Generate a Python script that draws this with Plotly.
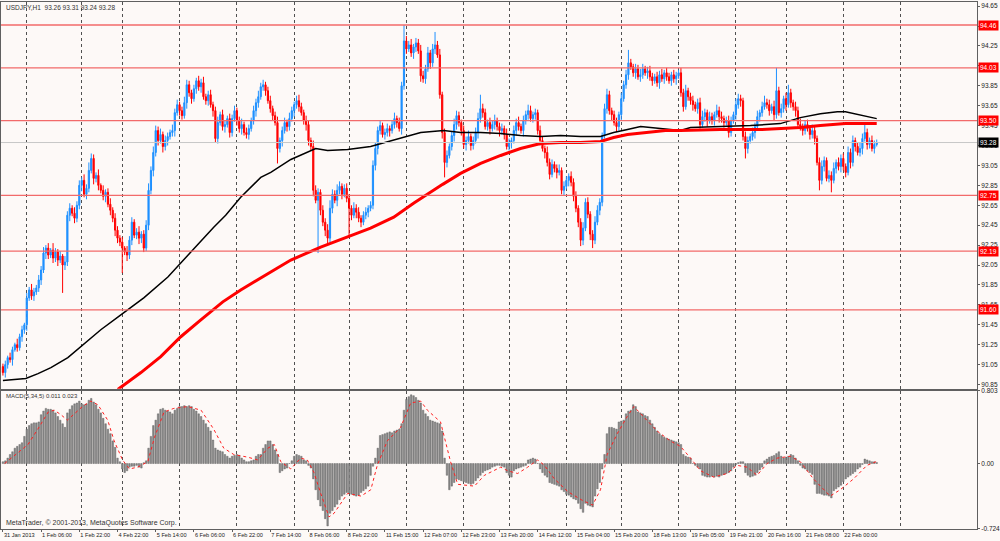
import plotly.graph_objects as go
from plotly.subplots import make_subplots

# USDJPY H1 - one value per hourly bar, grouped by 16 bars (one time label each)
first_open = 91.03
closes = [
    90.97, 91.05, 91.12, 91.10, 91.20, 91.25, 91.22, 91.33, 91.40, 91.45, 91.72, 91.80, 91.74, 91.78, 91.82, 91.90,
    92.00, 92.17, 92.22, 92.15, 92.20, 92.12, 92.18, 92.10, 92.14, 92.05, 92.08, 92.55, 92.62, 92.57, 92.52, 92.65,
    92.85, 92.90, 92.76, 92.82, 93.00, 93.12, 92.92, 92.95, 92.85, 92.80, 92.74, 92.78, 92.66, 92.60, 92.52, 92.40,
    92.32, 92.28, 92.22, 92.18, 92.15, 92.30, 92.48, 92.35, 92.38, 92.32, 92.36, 92.22, 92.45, 92.80, 93.00, 93.18,
    93.40, 93.30, 93.36, 93.24, 93.30, 93.34, 93.38, 93.40, 93.58, 93.66, 93.60, 93.55, 93.68, 93.86, 93.78, 93.72,
    93.82, 93.90, 93.84, 93.88, 93.74, 93.70, 93.76, 93.66, 93.60, 93.32, 93.48, 93.56, 93.44, 93.46, 93.52, 93.38,
    93.52, 93.60, 93.50, 93.42, 93.46, 93.38, 93.36, 93.42, 93.50, 93.60, 93.68, 93.74, 93.84, 93.86, 93.80, 93.70,
    93.62, 93.55, 93.48, 93.22, 93.30, 93.40, 93.48, 93.44, 93.52, 93.60, 93.66, 93.70, 93.64, 93.58, 93.50, 93.46,
    93.30, 93.24, 92.80, 92.70, 92.78, 92.60, 92.48, 92.40, 92.32, 92.62, 92.76, 92.70, 92.80, 92.84, 92.76, 92.82,
    92.72, 92.62, 92.55, 92.62, 92.58, 92.52, 92.48, 92.55, 92.58, 92.62, 92.65, 93.05, 93.22, 93.40, 93.45, 93.36,
    93.38, 93.42, 93.40, 93.46, 93.52, 93.48, 93.42, 93.85, 94.30, 94.22, 94.26, 94.18, 94.24, 94.28, 94.20, 93.95,
    93.92, 94.02, 94.18, 94.08, 94.22, 94.26, 94.16, 93.76, 93.38, 93.08, 93.15, 93.24, 93.35, 93.46, 93.55, 93.48,
    93.40, 93.26, 93.30, 93.34, 93.25, 93.30, 93.38, 93.52, 93.62, 93.58, 93.44, 93.48, 93.42, 93.46, 93.50, 93.44,
    93.40, 93.42, 93.36, 93.24, 93.28, 93.30, 93.40, 93.48, 93.44, 93.40, 93.50, 93.56, 93.60, 93.52, 93.56, 93.58,
    93.40, 93.30, 93.22, 93.18, 93.08, 92.96, 93.06, 93.02, 92.98, 93.00, 92.80, 92.84, 92.90, 92.94, 92.88, 92.74,
    92.62, 92.48, 92.30, 92.42, 92.68, 92.56, 92.36, 92.30, 92.48, 92.60, 92.68, 93.35, 93.62, 93.76, 93.60, 93.56,
    93.48, 93.44, 93.56, 93.72, 93.86, 93.96, 94.08, 94.04, 93.98, 94.02, 93.94, 93.96, 94.02, 93.98, 94.00, 93.94,
    93.90, 93.94, 93.88, 93.96, 93.92, 93.98, 93.94, 93.90, 93.96, 93.92, 93.95, 93.98, 93.78, 93.64, 93.80, 93.74,
    93.70, 93.66, 93.62, 93.68, 93.46, 93.54, 93.58, 93.50, 93.54, 93.50, 93.56, 93.60, 93.54, 93.52, 93.48, 93.50,
    93.38, 93.50, 93.56, 93.66, 93.72, 93.70, 93.34, 93.22, 93.30, 93.34, 93.38, 93.44, 93.54, 93.58, 93.64, 93.68,
    93.66, 93.60, 93.64, 93.56, 93.80, 93.58, 93.62, 93.72, 93.66, 93.78, 93.68, 93.64, 93.60, 93.46, 93.44, 93.40,
    93.46, 93.42, 93.36, 93.40, 93.32, 93.08, 92.90, 93.04, 93.10, 92.92, 92.95, 92.90, 93.02, 93.08, 93.04, 93.12,
    93.04, 92.98, 93.18, 93.08, 93.30, 93.24, 93.18, 93.22, 93.32, 93.38, 93.26, 93.30, 93.22, 93.26, 93.28,
]

# wick lengths above / below the body, in 0.01 yen
wick_up = [
    3, 4, 2, 5, 3, 2, 6, 3, 4, 2, 5, 3, 6, 4, 3, 5,
    4, 6, 3, 5, 2, 7, 4, 3, 5, 2, 6, 4, 5, 3, 6, 4,
    5, 3, 6, 4, 8, 5, 4, 3, 6, 2, 5, 3, 4, 6, 3, 5,
    4, 3, 5, 2, 6, 4, 5, 3, 4, 6, 3, 4, 5, 7, 4, 6,
    5, 4, 6, 3, 5, 4, 3, 6, 4, 5, 3, 4, 6, 5, 4, 3,
    4, 3, 5, 4, 6, 3, 4, 5, 3, 4, 6, 3, 5, 4, 3, 5,
    4, 5, 3, 4, 6, 3, 5, 4, 3, 5, 4, 6, 4, 5, 3, 4,
    5, 3, 4, 6, 3, 4, 5, 3, 6, 4, 3, 5, 6, 4, 3, 5,
    4, 3, 6, 5, 4, 3, 5, 4, 6, 8, 5, 4, 6, 5, 3, 4,
    5, 4, 3, 6, 4, 5, 3, 4, 5, 3, 4, 5, 6, 4, 5, 3,
    4, 5, 3, 4, 6, 3, 5, 4, 16, 5, 4, 6, 3, 5, 4, 6,
    5, 4, 6, 3, 5, 13, 4, 6, 3, 4, 5, 3, 4, 6, 5, 4,
    3, 5, 4, 6, 3, 4, 5, 6, 14, 5, 4, 3, 5, 4, 6, 3,
    4, 5, 3, 6, 4, 3, 5, 4, 6, 3, 5, 4, 6, 5, 3, 4,
    3, 5, 4, 3, 6, 4, 5, 3, 4, 6, 3, 5, 4, 3, 5, 4,
    5, 3, 4, 6, 4, 5, 3, 4, 6, 5, 4, 3, 5, 6, 4, 3,
    4, 5, 3, 6, 4, 5, 13, 4, 3, 5, 4, 6, 5, 3, 4, 5,
    4, 3, 5, 4, 6, 3, 5, 4, 3, 5, 4, 3, 5, 4, 6, 3,
    4, 5, 3, 4, 5, 6, 4, 3, 5, 4, 3, 6, 4, 5, 3, 4,
    5, 4, 3, 6, 5, 4, 3, 5, 4, 3, 5, 4, 6, 3, 5, 7,
    4, 5, 3, 6, 23, 4, 5, 3, 6, 8, 4, 3, 5, 4, 6, 3,
    4, 5, 3, 6, 4, 3, 5, 6, 4, 3, 5, 4, 6, 3, 5, 4,
    5, 3, 6, 4, 5, 3, 4, 6, 5, 8, 4, 3, 5, 4, 3,
]
wick_dn = [
    3, 5, 4, 3, 6, 2, 4, 3, 5, 4, 6, 3, 4, 5, 3, 4,
    5, 3, 6, 4, 3, 5, 4, 6, 3, 28, 5, 4, 6, 3, 5, 4,
    4, 6, 3, 5, 4, 3, 6, 4, 5, 3, 4, 6, 3, 5, 4, 6,
    5, 4, 25, 3, 6, 4, 5, 3, 4, 6, 5, 4, 3, 5, 4, 6,
    4, 5, 3, 6, 4, 5, 3, 4, 6, 3, 5, 4, 3, 6, 4, 5,
    3, 5, 4, 6, 3, 4, 5, 3, 6, 4, 5, 3, 4, 6, 3, 5,
    4, 3, 5, 4, 6, 3, 4, 5, 3, 4, 6, 5, 3, 4, 5, 3,
    4, 5, 3, 15, 4, 6, 3, 5, 4, 3, 6, 4, 5, 3, 4, 6,
    5, 4, 6, 3, 53, 5, 4, 6, 6, 4, 5, 3, 6, 4, 5, 3,
    4, 29, 5, 3, 6, 4, 5, 3, 4, 5, 3, 4, 5, 6, 4, 3,
    5, 4, 6, 3, 4, 5, 3, 6, 4, 5, 3, 4, 6, 5, 3, 6,
    4, 5, 3, 6, 4, 5, 3, 4, 6, 15, 5, 3, 4, 6, 5, 4,
    5, 4, 6, 3, 5, 4, 3, 6, 4, 5, 3, 4, 6, 3, 5, 4,
    6, 4, 5, 3, 4, 6, 3, 5, 4, 3, 6, 4, 5, 3, 4, 5,
    4, 5, 3, 6, 4, 5, 3, 4, 6, 3, 4, 5, 3, 6, 4, 5,
    4, 5, 6, 5, 3, 4, 6, 8, 4, 3, 5, 4, 3, 5, 4, 6,
    3, 5, 4, 6, 3, 4, 5, 3, 4, 6, 3, 5, 4, 3, 6, 4,
    5, 3, 4, 6, 3, 5, 4, 3, 5, 4, 6, 3, 4, 5, 3, 4,
    4, 6, 3, 5, 4, 3, 5, 6, 3, 4, 5, 3, 6, 4, 5, 3,
    5, 4, 3, 5, 4, 6, 4, 10, 5, 3, 4, 6, 3, 5, 4, 3,
    4, 5, 3, 6, 4, 3, 5, 4, 6, 3, 5, 4, 6, 3, 4, 5,
    4, 3, 5, 4, 6, 3, 10, 4, 5, 3, 4, 12, 3, 5, 4, 6,
    4, 5, 3, 6, 4, 5, 3, 4, 6, 3, 5, 4, 3, 5, 2,
]

# moving averages (bar index, price)
ma_black_bars = [0, 9.6, 14.7, 20.1, 27.2, 32.6, 41.0, 49.4, 59.0, 69.1, 74.5, 80.0, 88.3, 93.3, 99.6, 108.0,
                 112.2, 120.6, 127.7, 131.0, 136.0, 144.4, 154.0, 161.2, 167.9, 175.0, 184.6, 191.7, 200.1,
                 208.5, 216.8, 225.2, 233.6, 241.9, 250.3, 255.8, 261.6, 267.1, 275.4, 283.8, 288.0, 300.5,
                 313.1, 325.6, 334.0, 342.4, 349.5, 352.9, 359.2, 366.0]
ma_black_vals = [90.89, 90.91, 90.96, 91.02, 91.12, 91.23, 91.40, 91.55, 91.72, 91.93, 92.07, 92.22, 92.43, 92.55,
                 92.73, 92.93, 92.98, 93.11, 93.19, 93.22, 93.20, 93.21, 93.24, 93.29, 93.33, 93.38, 93.40, 93.38,
                 93.38, 93.37, 93.35, 93.34, 93.35, 93.34, 93.34, 93.38, 93.41, 93.44, 93.42, 93.40, 93.43, 93.44,
                 93.45, 93.47, 93.53, 93.57, 93.59, 93.59, 93.56, 93.52]
ma_red_bars = [48.1, 57.8, 66.1, 74.5, 82.9, 92.1, 99.6, 108.0, 120.6, 133.1, 144.4, 154.0, 163.7, 172.0, 184.2,
               191.7, 200.1, 208.5, 216.8, 225.2, 233.6, 241.9, 250.3, 255.8, 261.6, 270.0, 277.5, 283.8, 300.5,
               317.3, 328.6, 334.0, 342.4, 352.9, 366.0]
ma_red_vals = [90.80, 90.97, 91.13, 91.33, 91.50, 91.68, 91.80, 91.92, 92.10, 92.23, 92.33, 92.42, 92.53, 92.67,
               92.86, 92.97, 93.07, 93.15, 93.22, 93.27, 93.28, 93.28, 93.29, 93.33, 93.36, 93.38, 93.40, 93.40,
               93.41, 93.41, 93.42, 93.43, 93.45, 93.47, 93.47]

# MACD(5,34,5) main line per bar, in 0.01
macd_hist = [
    2, 3, 6, 10, 13, 17, 19, 21, 23, 30, 38, 42, 44, 45, 45, 46,
    54, 58, 61, 60, 60, 59, 56, 52, 48, 44, 40, 56, 60, 64, 66, 67,
    69, 66, 65, 66, 70, 72, 68, 65, 60, 56, 50, 44, 38, 33, 25, 18,
    6, 2, -6, -10, -8, -4, -3, -3, -2, -4, -5, 1, 3, 17, 30, 42,
    48, 55, 60, 61, 59, 58, 57, 55, 59, 61, 63, 63, 64, 63, 64, 63,
    60, 58, 55, 52, 48, 44, 40, 36, 26, 17, 15, 14, 13, 10, 8, 6,
    8, 9, 10, 9, 6, 4, 2, 2, 3, 4, 8, 10, 10, 17, 21, 25,
    25, 21, 15, 10, -10, -8, -6, -5, 0, 3, 8, 10, 9, 8, 4, 3,
    -2, -5, -17, -29, -40, -47, -52, -61, -69, -55, -52, -48, -45, -40, -36, -34,
    -32, -33, -34, -35, -36, -35, -32, -30, -28, -25, -13, -3, 6, 17, 31, 32,
    33, 34, 35, 34, 36, 37, 38, 44, 59, 71, 74, 76, 75, 73, 70, 67,
    59, 55, 52, 48, 47, 46, 45, 44, 36, 6, -13, -29, -25, -21, -17, -18,
    -19, -20, -21, -22, -23, -22, -19, -16, -13, -10, -8, -7, -6, -4, -3, -2,
    -2, -3, -4, -10, -13, -15, -8, -6, -5, -4, -3, -2, 4, 5, 6, 5,
    0, -6, -10, -13, -15, -21, -22, -23, -24, -25, -29, -31, -34, -35, -37, -39,
    -40, -44, -50, -54, -44, -46, -47, -48, -36, -28, -21, -6, 10, 33, 40, 40,
    39, 38, 46, 47, 48, 55, 58, 59, 65, 63, 57, 56, 55, 53, 52, 48,
    44, 40, 36, 33, 31, 29, 28, 27, 26, 25, 24, 23, 21, 10, 8, 7,
    6, 0, -2, -4, -6, -13, -14, -15, -15, -14, -15, -14, -15, -13, -12, -11,
    -10, -8, -4, -1, 1, 2, 2, -10, -13, -15, -14, -13, -10, -7, -4, 3,
    5, 7, 8, 9, 11, 13, 8, 6, 7, 8, 10, 9, 6, 3, -2, -5,
    -6, -8, -10, -12, -23, -33, -33, -34, -35, -35, -36, -38, -30, -28, -26, -24,
    -20, -17, -15, -13, -11, -9, -6, -4, -1, 5, 4, 3, 2, 2, 1.1,
]

# signal line (bar index, value)
signal_bars = [0.7, 4.6, 10.5, 14.6, 19.0, 21.5, 24.3, 27.0, 29.8, 33.3, 36.8, 39.8, 43.9, 46.6, 50.1, 53.0,
               56.4, 60.7, 63.5, 67.5, 71.6, 77.4, 83.0, 88.3, 92.5, 96.7, 102.6, 106.7, 111.0, 113.7, 116.4,
               120.6, 124.7, 127.5, 130.3, 133.1, 136.6, 138.7, 144.4, 150.0, 154.1, 156.8, 161.0, 166.6, 170.8,
               175.0, 177.8, 183.3, 187.5, 190.5, 197.5, 201.7, 208.5, 211.4, 215.6, 219.8, 224.0, 226.8, 231.0,
               236.6, 242.2, 247.0, 250.3, 253.1, 257.3, 261.5, 264.3, 268.4, 274.0, 279.5, 283.8, 288.0, 292.2,
               297.7, 303.3, 307.5, 311.7, 315.9, 320.1, 324.3, 329.8, 334.0, 339.5, 346.5, 350.7, 356.3, 361.9,
               366.0]
signal_vals = [0.0, 0.08, 0.21, 0.38, 0.57, 0.59, 0.54, 0.48, 0.55, 0.63, 0.69, 0.65, 0.48, 0.25, 0.04, -0.06,
               -0.04, 0.02, 0.29, 0.57, 0.61, 0.63, 0.59, 0.38, 0.17, 0.10, 0.07, 0.04, 0.17, 0.21, 0.02,
               -0.06, 0.06, 0.04, -0.10, -0.33, -0.59, -0.55, -0.33, -0.36, -0.29, -0.02, 0.25, 0.40, 0.67,
               0.69, 0.59, 0.46, 0.02, -0.23, -0.25, -0.13, -0.04, -0.08, -0.11, -0.04, 0.04, -0.02, -0.17,
               -0.31, -0.40, -0.46, -0.29, 0.10, 0.33, 0.52, 0.63, 0.52, 0.36, 0.25, 0.19, 0.06, -0.08,
               -0.15, -0.11, -0.02, -0.04, -0.13, 0.0, 0.06, 0.08, 0.02, -0.17, -0.36, -0.29, -0.17, -0.02,
               0.023]

# horizontal levels drawn on the chart
levels = [94.46, 94.03, 93.50, 92.75, 92.19, 91.60]
bid = 93.28

# time axis
tick_text = ["31 Jan 2013", "1 Feb 06:00", "1 Feb 22:00", "4 Feb 22:00", "5 Feb 14:00", "6 Feb 06:00",
             "6 Feb 22:00", "7 Feb 14:00", "8 Feb 06:00", "8 Feb 22:00", "11 Feb 15:00", "12 Feb 07:00",
             "12 Feb 23:00", "13 Feb 20:00", "14 Feb 12:00", "15 Feb 04:00", "15 Feb 20:00", "18 Feb 13:00",
             "19 Feb 05:00", "19 Feb 21:00", "20 Feb 16:00", "21 Feb 08:00", "22 Feb 00:00"]
tick_bars = [16 * i for i in range(len(tick_text))]
day_bars = [10, 33, 50, 74, 98, 122, 145, 169, 193, 212, 236, 259, 283, 307, 328, 352, 376]
price_ticks = [90.85 + 0.2 * i for i in range(20)]

n = len(closes)
assert len(wick_up) == n and len(wick_dn) == n and len(macd_hist) == n, (n, len(wick_up), len(wick_dn), len(macd_hist))
bars = list(range(n))
opens = [first_open] + closes[:-1]
highs = [max(o, c) + u / 100 for o, c, u in zip(opens, closes, wick_up)]
lows = [min(o, c) - d / 100 for o, c, d in zip(opens, closes, wick_dn)]
macd = [v / 100 for v in macd_hist]

BG = '#fdf9f7'
FONT = 'Liberation Sans, Arial, sans-serif'
FS = 6.5

fig = make_subplots(rows=2, cols=1, shared_xaxes=True)

fig.add_trace(go.Candlestick(
    x=bars, open=opens, high=highs, low=lows, close=closes,
    increasing=dict(line=dict(color='#1e90ff', width=1), fillcolor='#1e90ff'),
    decreasing=dict(line=dict(color='#ff0000', width=1), fillcolor='#ff0000'),
    whiskerwidth=0), row=1, col=1)
fig.add_trace(go.Scatter(x=ma_black_bars, y=ma_black_vals, mode='lines',
                         line=dict(color='#000000', width=1.5)), row=1, col=1)
fig.add_trace(go.Scatter(x=ma_red_bars, y=ma_red_vals, mode='lines',
                         line=dict(color='#ff0000', width=3)), row=1, col=1)

fig.add_trace(go.Bar(x=bars, y=macd, marker=dict(color='#8a8a8a', line=dict(color='#555555', width=0.4))),
              row=2, col=1)
fig.add_trace(go.Scatter(x=signal_bars, y=signal_vals, mode='lines',
                         line=dict(color='#ff2020', width=1, dash='dot')), row=2, col=1)

for lv in levels:
    fig.add_hline(y=lv, line=dict(color='#f26a6a', width=1.3), row=1, col=1)
    fig.add_annotation(xref='paper', x=1, xanchor='left', xshift=1, yref='y', y=lv, text=f'{lv:.2f}',
                       showarrow=False, bgcolor='#ff0000', borderpad=1,
                       font=dict(color='white', size=FS, family=FONT))
fig.add_hline(y=bid, line=dict(color='#c8c8c8', width=1), row=1, col=1)
fig.add_annotation(xref='paper', x=1, xanchor='left', xshift=1, yref='y', y=bid, text=f'{bid:.2f}',
                   showarrow=False, bgcolor='#000000', borderpad=1,
                   font=dict(color='white', size=FS, family=FONT))

fig.add_annotation(xref='paper', x=0.003, xanchor='left', yref='y domain', y=1, yanchor='top',
                   text='USDJPY,H1  93.26 93.31 93.24 93.28', showarrow=False,
                   font=dict(color='#333333', size=6.5, family=FONT))
fig.add_annotation(xref='paper', x=0.003, xanchor='left', yref='y2 domain', y=1, yanchor='top',
                   text='MACD(5,34,5) 0.011 0.023', showarrow=False,
                   font=dict(color='#333333', size=6, family=FONT))
fig.add_annotation(xref='paper', x=0.003, xanchor='left', yref='y2 domain', y=0, yanchor='bottom',
                   text='MetaTrader, © 2001-2013, MetaQuotes Software Corp.', showarrow=False,
                   font=dict(color='#333333', size=7, family=FONT))

grid = dict(tickmode='array', tickvals=day_bars, showgrid=True, griddash='dot',
            gridcolor='#505050', gridwidth=1, ticklen=0)
axis_line = dict(showline=True, mirror=True, linecolor='#606060', linewidth=1)

fig.update_xaxes(range=[-0.8, 408], showgrid=False, zeroline=False, minor=grid, automargin=False,
                 rangeslider=dict(visible=False), **axis_line)
fig.update_xaxes(showticklabels=False, ticks='', row=1, col=1)
fig.update_xaxes(tickmode='array', tickvals=tick_bars, ticktext=tick_text, tickangle=0,
                 ticklabelposition='outside right', ticks='outside', ticklen=2, tickcolor='#606060',
                 tickfont=dict(size=5.6, family=FONT, color='#222222'), row=2, col=1)

fig.update_yaxes(side='right', showgrid=False, zeroline=False, ticks='outside', ticklen=2, automargin=False,
                 tickcolor='#606060', tickfont=dict(size=FS, family=FONT, color='#222222'), **axis_line)
fig.update_yaxes(range=[90.807, 94.691], tickmode='array', tickvals=price_ticks,
                 ticktext=[f'{v:.2f}' for v in price_ticks], domain=[0.266, 1], row=1, col=1)
fig.update_yaxes(range=[-0.724, 0.803], tickmode='array', tickvals=[0.803, 0, -0.724],
                 ticktext=['0.803', '0.00', '-0.724'], domain=[0, 0.262], row=2, col=1)

fig.update_layout(
    width=1000, height=541,
    margin=dict(l=1, r=23, t=2, b=12),
    paper_bgcolor=BG, plot_bgcolor=BG,
    showlegend=False, hovermode=False,
    bargap=0.35,
    font=dict(family=FONT, size=FS, color='#222222'),
)

# the page body has a default 8px margin; drop it so the chart sits at the window corner
fig.write_html('out.html', config={'displayModeBar': False},
               post_script="document.body.style.margin='0px';")
